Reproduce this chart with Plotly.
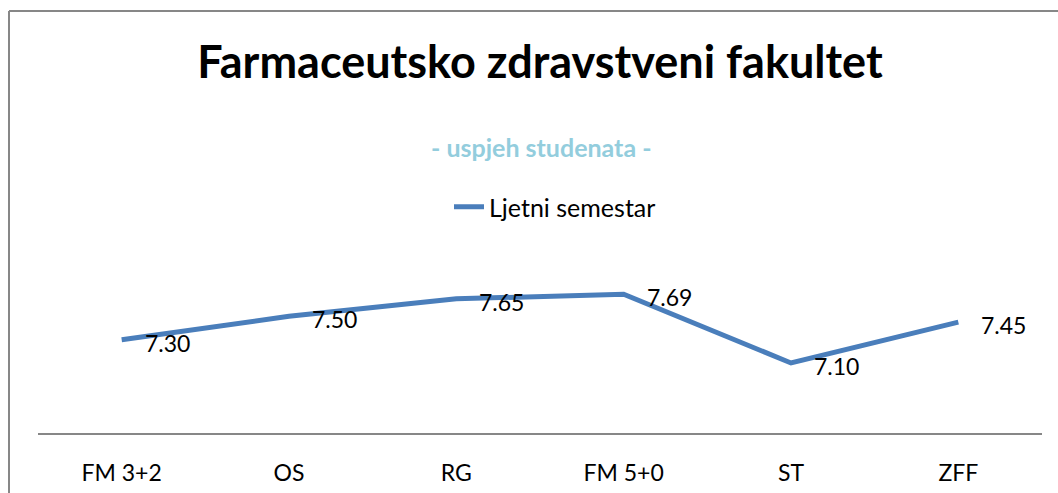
import plotly.graph_objects as go

# data
categories = ["FM 3+2", "OS", "RG", "FM 5+0", "ST", "ZFF"]
ljetni = [7.30, 7.50, 7.65, 7.69, 7.10, 7.45]
labels = ["7.30", "7.50", "7.65", "7.69", "7.10", "7.45"]

W, H = 1058, 493
M_L, M_R, M_T, M_B = 38, 16, 258, 60
FONT = "Lato"

fig = go.Figure()
fig.add_trace(go.Scatter(
    x=categories, y=ljetni,
    mode="lines",
    name="Ljetni semestar",
    line=dict(color="#4A7EBB", width=5),
    cliponaxis=False,
))

# data labels, to the right of each point like in Excel
for cat, val, lab in zip(categories, ljetni, labels):
    fig.add_annotation(x=cat, y=val, text=lab, showarrow=False,
                       xanchor="left", yanchor="middle", xshift=21, yshift=-3,
                       font=dict(size=23, color="black", family=FONT))


def px_to_paper_x(px):
    return (px - M_L) / (W - M_L - M_R)


def px_to_paper_y(px):
    return (H - M_B - px) / (H - M_T - M_B)


# outer chart border (left and top edges visible)
fig.add_shape(type="line", xref="paper", yref="paper",
              x0=px_to_paper_x(9), x1=px_to_paper_x(1070),
              y0=px_to_paper_y(11), y1=px_to_paper_y(11),
              line=dict(color="#878787", width=2))
fig.add_shape(type="line", xref="paper", yref="paper",
              x0=px_to_paper_x(9), x1=px_to_paper_x(9),
              y0=px_to_paper_y(11), y1=px_to_paper_y(500),
              line=dict(color="#878787", width=2))

fig.add_annotation(text="<b>- uspjeh studenata -</b>", xref="paper", yref="paper",
                   x=px_to_paper_x(541), y=px_to_paper_y(147),
                   showarrow=False, xanchor="center", yanchor="middle",
                   font=dict(size=25, color="#93CDDD", family=FONT))

fig.update_layout(
    width=W, height=H,
    margin=dict(l=M_L, r=M_R, t=M_T, b=M_B, autoexpand=False),
    plot_bgcolor="white", paper_bgcolor="white",
    title=dict(text="<b>Farmaceutsko zdravstveni fakultet</b>",
               x=px_to_paper_x(540), xref="paper", xanchor="center",
               y=1 - 62 / H, yref="container", yanchor="middle",
               font=dict(size=45, color="black", family=FONT)),
    showlegend=True,
    legend=dict(orientation="h", x=px_to_paper_x(555), xref="paper", xanchor="center",
                y=1 - 207 / H, yref="container", yanchor="middle",
                font=dict(size=25, color="black", family=FONT),
                bgcolor="rgba(0,0,0,0)"),
    xaxis=dict(showline=True, linecolor="#878787", linewidth=2,
               range=[-0.5, 5.5], automargin=False,
               showgrid=False, zeroline=False, ticks="",
               tickfont=dict(size=23, color="black", family=FONT),
               ticklabelstandoff=18),
    yaxis=dict(range=[6.5, 8.0], visible=False, showgrid=False, automargin=False),
)

# page body has a default 8px margin; drop it so the figure sits at 0,0
fig.write_html("out.html", config={"displayModeBar": False},
               post_script="document.body.style.margin='0';")
